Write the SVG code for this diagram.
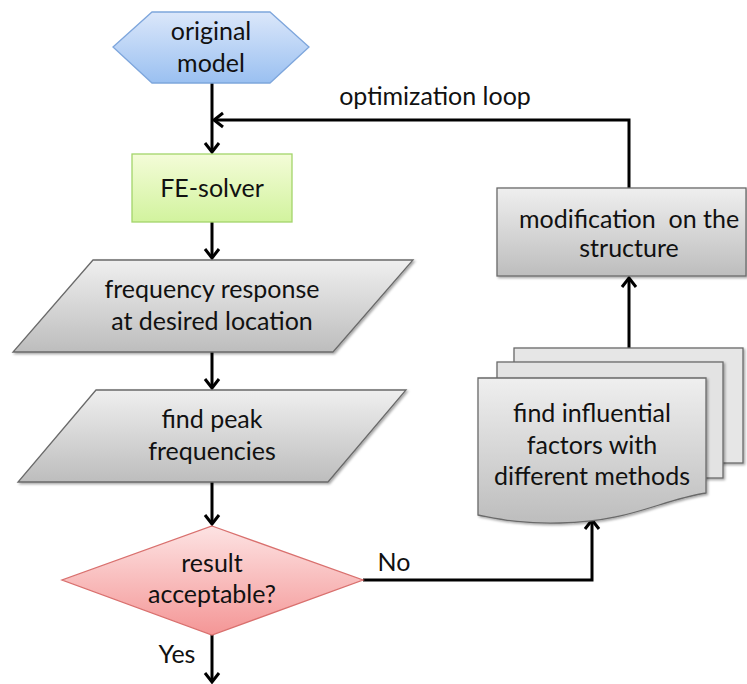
<svg xmlns="http://www.w3.org/2000/svg" width="747" height="684" viewBox="0 0 747 684">
<style>
text{font-family:Lato,"Liberation Sans",sans-serif;font-size:25px;fill:#111;text-anchor:middle}
.gray{fill:url(#gGray);stroke:#6a6a6a;stroke-width:1.3}
.conn{fill:none;stroke:#000;stroke-width:3}
</style>
<defs>
<linearGradient id="gGray" x1="0" y1="0" x2="0" y2="1"><stop offset="0" stop-color="#efefef"/><stop offset="1" stop-color="#bdbdbd"/></linearGradient>
<linearGradient id="gBlue" x1="0" y1="0" x2="0" y2="1"><stop offset="0" stop-color="#dbe7fa"/><stop offset="1" stop-color="#9ac0f1"/></linearGradient>
<linearGradient id="gGreen" x1="0" y1="0" x2="0" y2="1"><stop offset="0" stop-color="#f4fcd8"/><stop offset="1" stop-color="#d2f39e"/></linearGradient>
<linearGradient id="gRed" x1="0" y1="0" x2="0" y2="1"><stop offset="0" stop-color="#fde3e3"/><stop offset="1" stop-color="#f49696"/></linearGradient>
<filter id="sh" x="-10%" y="-10%" width="125%" height="125%"><feDropShadow dx="1.5" dy="1.5" stdDeviation="1" flood-color="#000" flood-opacity="0.35"/></filter>
<marker id="arr" markerUnits="userSpaceOnUse" markerWidth="20" markerHeight="20" refX="0" refY="0" viewBox="-12 -10 14 20" orient="auto" overflow="visible">
<path d="M-9,-7 L0,0 L-9,7" fill="none" stroke="#000" stroke-width="3"/>
</marker>
</defs>

<g id="connectors">
<path class="conn" d="M212,83 V152" marker-end="url(#arr)"/>
<path class="conn" d="M212,222 V258" marker-end="url(#arr)"/>
<path class="conn" d="M212,352 V388" marker-end="url(#arr)"/>
<path class="conn" d="M212,482 V524" marker-end="url(#arr)"/>
<path class="conn" d="M212,635 V682" marker-end="url(#arr)"/>
<path class="conn" d="M363,580 H592 V520" marker-end="url(#arr)"/>
<path class="conn" d="M629,348 V278" marker-end="url(#arr)"/>
<path class="conn" d="M629,188 V120 H214" marker-end="url(#arr)"/>
<text x="435" y="105">optimization loop</text>
<text x="394" y="571">No</text>
<text x="177" y="663">Yes</text>
</g>

<g id="original-model">
<polygon points="113,47 152,12 270,12 309,47 270,83 152,83" fill="url(#gBlue)" stroke="#7ea6dc" stroke-width="1.3"/>
<text x="211" y="40">original</text>
<text x="211" y="72">model</text>
</g>

<g id="fe-solver">
<rect x="132" y="154" width="160" height="68" fill="url(#gGreen)" stroke="#a3d46a" stroke-width="1.3"/>
<text x="212" y="197">FE-solver</text>
</g>

<g id="frequency-response">
<polygon class="gray" filter="url(#sh)" points="93,260 413,260 333,352 13,352"/>
<text x="212" y="298">frequency response</text>
<text x="212" y="330">at desired location</text>
</g>

<g id="peak-frequencies">
<polygon class="gray" filter="url(#sh)" points="96,390 406,390 328,482 18,482"/>
<text x="212" y="428">find peak</text>
<text x="212" y="460">frequencies</text>
</g>

<g id="decision">
<polygon points="212,526 363,580 212,635 62,580" fill="url(#gRed)" stroke="#d9706e" stroke-width="1.3"/>
<text x="212" y="572">result</text>
<text x="212" y="603">acceptable?</text>
</g>

<g id="influential-factors">
<rect class="gray" filter="url(#sh)" x="514" y="348" width="229" height="115" style="fill:#e6e6e6"/>
<rect class="gray" filter="url(#sh)" x="497" y="362" width="226" height="116" style="fill:#e3e3e3"/>
<path class="gray" filter="url(#sh)" d="M478,378 H706 V493 C660,500 630,522 560,523 C520,524 500,519 478,515 Z"/>
<text x="592" y="422">find influential</text>
<text x="592" y="454">factors with</text>
<text x="592" y="485">different methods</text>
</g>

<g id="modification">
<rect class="gray" filter="url(#sh)" x="497" y="188" width="249" height="88"/>
<text x="629" y="228" xml:space="preserve">modification  on the</text>
<text x="629" y="257">structure</text>
</g>
</svg>
